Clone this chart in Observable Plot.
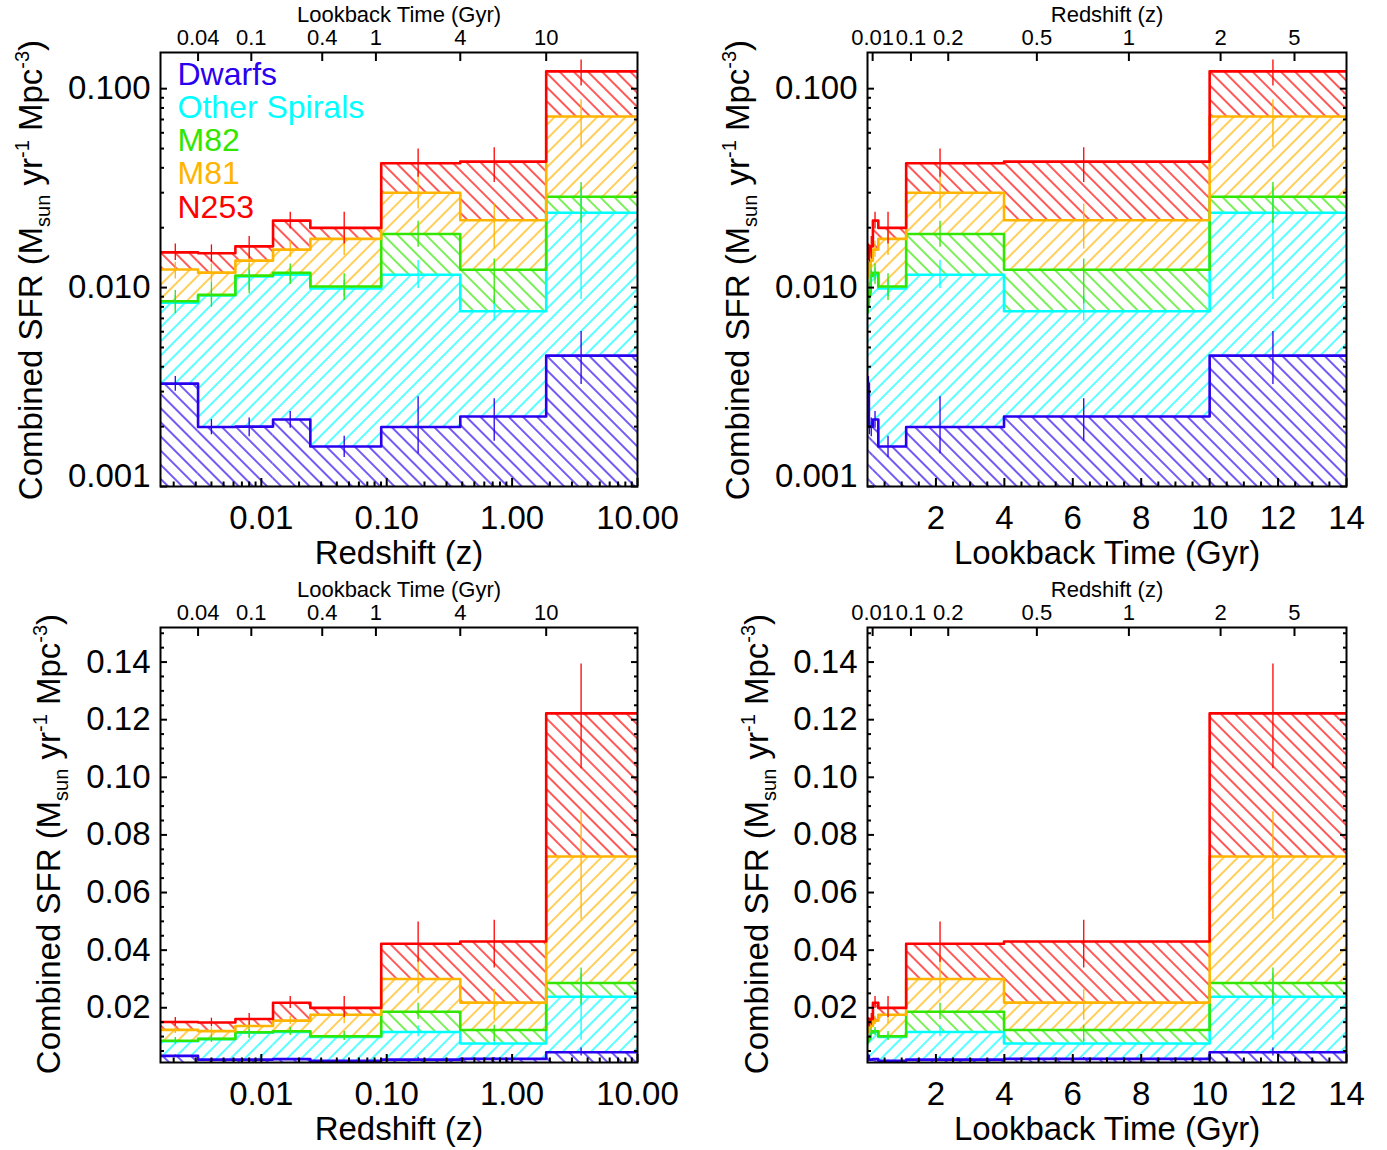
<!DOCTYPE html>
<html><head><meta charset="utf-8">
<script src="https://cdn.jsdelivr.net/npm/d3@7"></script>
<script src="https://cdn.jsdelivr.net/npm/@observablehq/plot@0.6"></script>
<style>
body{margin:0;background:#fff;}
#wrap{position:relative;width:1387px;height:1150px;overflow:hidden;}
#wrap svg{position:absolute;overflow:visible;}
</style></head><body><div id="wrap"></div>
<script>
// ---------------- data ----------------
const seriesNames = ["Dwarfs", "Other Spirals", "M82", "M81", "N253"];
const seriesColors = ["#2a00f0", "#00ffff", "#33e600", "#ffb400", "#ff0000"];

// bins
const lookbackEdges = [0.02, 0.04, 0.079, 0.158, 0.316, 1.13, 3.99, 10.0, 14.0];   // Gyr
const lookbackMid   = [0.028, 0.056, 0.11, 0.22, 0.60, 2.12, 6.32, 11.85];          // Gyr
const redshiftEdges = [0.00157, 0.00313, 0.00621, 0.0124, 0.0246, 0.0904, 0.386, 1.87, 10];
const redshiftMid   = [0.00206, 0.0040, 0.0080, 0.0170, 0.0458, 0.178, 0.720, 3.55];

// cumulative (stacked) combined SFR per bin, Msun / yr / Mpc^3
const dwarfsTop  = [0.00329, 0.00199, 0.00200, 0.00217, 0.00159, 0.00199, 0.00225, 0.00455];
const spiralsTop = [0.00840, 0.00912, 0.01136, 0.01162, 0.00989, 0.0116, 0.0076, 0.0238];
const m82Top     = [0.00853, 0.00919, 0.01149, 0.01186, 0.01012, 0.0186, 0.0123, 0.0286];
const m81Top     = [0.01232, 0.01189, 0.01367, 0.01552, 0.01757, 0.0300, 0.0218, 0.0725];
const n253Top    = [0.01504, 0.01487, 0.01612, 0.02172, 0.01995, 0.0422, 0.0430, 0.1222];

// error bars (low / high)
const dwarfsLo  = [0.00301, 0.00182, 0.00178, 0.00196, 0.00140, 0.00146, 0.00169, 0.00326];
const dwarfsHi  = [0.00357, 0.00217, 0.00221, 0.00238, 0.00179, 0.00283, 0.00276, 0.00601];
const spiralsLo = [0.0078, 0.0085, 0.0097, 0.0108, 0.0090, 0.0099, 0.0068, 0.0087];
const spiralsHi = [0.0091, 0.0098, 0.0125, 0.0125, 0.0109, 0.0137, 0.0091, 0.032];
const m82Lo     = [0.00738, 0.00796, 0.0093, 0.01035, 0.0086, 0.01594, 0.00828, 0.021];
const m82Hi     = [0.00966, 0.01063, 0.01315, 0.01315, 0.01172, 0.02154, 0.01394, 0.0338];
const m81Lo     = [0.01106, 0.01063, 0.01218, 0.0142, 0.01448, 0.02486, 0.01565, 0.0506];
const m81Hi     = [0.0134, 0.01315, 0.01504, 0.01709, 0.01934, 0.03796, 0.02634, 0.0880];
const n253Lo    = [0.01367, 0.0134, 0.01394, 0.01972, 0.01658, 0.03584, 0.0338, 0.1030];
const n253Hi    = [0.01658, 0.01639, 0.01804, 0.0239, 0.0239, 0.0498, 0.0504, 0.1393];

// tick labels
const lookbackTickLabels   = ["0.04", "0.1", "0.4", "1", "4", "10"];
const lookbackTickRedshift = [0.00313, 0.00832, 0.0306, 0.082, 0.386, 1.87];
const redshiftTickLabels   = ["0.01", "0.1", "0.2", "0.5", "1", "2", "5"];
const redshiftTickLookback = [0.15, 1.27, 2.36, 4.95, 7.64, 10.32, 12.48];
const redshiftAxisTicks = [0.01, 0.1, 1, 10];
const lookbackAxisTicks = [2, 4, 6, 8, 10, 12, 14];
const logYTicks = [0.001, 0.01, 0.1];
const linYTicks = [0.02, 0.04, 0.06, 0.08, 0.10, 0.12, 0.14];
const yDomain = [0.001, 0.152];

// ---------------- drawing ----------------
const FONT = '"Liberation Sans", Arial, Helvetica, sans-serif';
const tops = [dwarfsTop, spiralsTop, m82Top, m81Top, n253Top];
const los = [dwarfsLo, spiralsLo, m82Lo, m81Lo, n253Lo];
const his = [dwarfsHi, spiralsHi, m82Hi, m81Hi, n253Hi];

function logMinor(lo, hi) {
  const out = [];
  for (let e = -4; e <= 2; e++) for (let m = 2; m <= 9; m++) {
    const v = m * Math.pow(10, e);
    if (v > lo * 1.0001 && v < hi * 0.9999) out.push(+v.toPrecision(3));
  }
  return out;
}
function linMinor(lo, hi, step, majorStep) {
  const out = [];
  for (let k = 1; k * step < hi; k++) {
    const v = +(k * step).toFixed(6);
    if (v <= lo) continue;
    if (Math.abs(v / majorStep - Math.round(v / majorStep)) < 1e-6) continue;
    out.push(v);
  }
  return out;
}

function makePanel(cfg) {
  const {id, left, top, width, height, mL, mR, mT, mB, xLog, yLog, xDomain, edges, mids,
         bottomTicks, bottomFmt, topTicks, topLabels, topTitle, bottomTitle, legend, titleX, titleY} = cfg;
  const marks = [];
  // hatched bands
  tops.forEach((t, s) => {
    const bins = t.map((v, i) => ({x1: edges[i], x2: edges[i + 1], y1: s === 0 ? yDomain[0] : tops[s - 1][i], y2: v}));
    marks.push(Plot.rect(bins, {x1: "x1", x2: "x2", y1: "y1", y2: "y2", fill: `url(#${id}-h${s})`, clip: true}));
  });
  // step outlines
  tops.forEach((t, s) => {
    const pts = t.flatMap((v, i) => [{x: edges[i], y: v}, {x: edges[i + 1], y: v}]);
    marks.push(Plot.line(pts, {x: "x", y: "y", stroke: seriesColors[s], strokeWidth: 2.6, clip: true}));
  });
  // error bars
  tops.forEach((t, s) => {
    const eb = t.map((v, i) => ({x: mids[i], lo: los[s][i], hi: his[s][i]}));
    marks.push(Plot.ruleX(eb, {x: "x", y1: "lo", y2: "hi", stroke: seriesColors[s], strokeWidth: 1.3, clip: true}));
  });
  // legend
  if (legend) {
    seriesNames.forEach((n, s) => {
      marks.push(Plot.text([n], {frameAnchor: "top-left", textAnchor: "start", lineAnchor: "middle",
        dx: 17, dy: 22 + s * 33.2, fill: seriesColors[s], fontSize: 32, text: d => d}));
    });
  }
  // axes
  const xMinor = xLog ? logMinor(xDomain[0], xDomain[1]) : linMinor(xDomain[0], xDomain[1], 0.5, 2);
  const yMajor = yLog ? logYTicks : linYTicks;
  const yMinor = yLog ? logMinor(yDomain[0], yDomain[1]) : linMinor(yDomain[0], yDomain[1], 0.005, 0.02);
  const yFmt = yLog ? d3.format(".3f") : d3.format(".2f");
  const empty = () => "";
  marks.push(
    Plot.axisX({anchor: "bottom", ticks: bottomTicks, tickFormat: bottomFmt, tickSize: -8, tickPadding: 27, fontSize: 33, strokeWidth: 2, label: null}),
    Plot.axisX({anchor: "bottom", ticks: xMinor, tickFormat: empty, tickSize: -4.5, strokeWidth: 2, label: null}),
    Plot.axisX({anchor: "top", ticks: topTicks, tickFormat: empty, tickSize: -8, strokeWidth: 2, label: null}),
    Plot.text(topTicks, {x: d => d, text: (d, i) => topLabels[i], frameAnchor: "top", lineAnchor: "bottom", dy: -8, fontSize: 22}),
    Plot.axisY({anchor: "left", ticks: yMajor, tickFormat: d => (yLog && d === 0.001) ? "" : yFmt(d), tickSize: -7, tickPadding: 17, fontSize: 33, strokeWidth: 2, label: null}),
    Plot.axisY({anchor: "left", ticks: yMinor, tickFormat: empty, tickSize: -4, strokeWidth: 2, label: null}),
    Plot.axisY({anchor: "right", ticks: yMajor, tickFormat: empty, tickSize: -7, strokeWidth: 2, label: null}),
    Plot.axisY({anchor: "right", ticks: yMinor, tickFormat: empty, tickSize: -4, strokeWidth: 2, label: null})
  );
  if (yLog) {
    marks.push(Plot.axisY({anchor: "left", ticks: [0.001], tickFormat: yFmt, tickSize: 0, tickPadding: 10, dy: -10, fontSize: 33, label: null}));
  }
  marks.push(Plot.frame({stroke: "black", strokeWidth: 2}));
  marks.push(Plot.text([bottomTitle], {frameAnchor: "bottom", lineAnchor: "middle", dy: 67, fontSize: 33, text: d => d}));
  marks.push(Plot.text([topTitle], {frameAnchor: "top", lineAnchor: "middle", dy: -38, fontSize: 22, text: d => d}));

  const svg = Plot.plot({
    width, height, marginLeft: mL, marginRight: mR, marginTop: mT, marginBottom: mB,
    x: {type: xLog ? "log" : "linear", domain: xDomain},
    y: {type: yLog ? "log" : "linear", domain: yDomain},
    style: {fontFamily: FONT, fontSize: "33px", color: "black", background: "transparent", overflow: "visible"},
    marks
  });
  svg.style.left = left + "px";
  svg.style.top = top + "px";
  // hatch patterns
  const defs = d3.select(svg).insert("defs", ":first-child");
  seriesColors.forEach((c, s) => {
    const p = defs.append("pattern").attr("id", `${id}-h${s}`).attr("patternUnits", "userSpaceOnUse")
      .attr("width", 10).attr("height", 10).attr("patternTransform", `rotate(${s % 2 ? 45 : -45})`);
    p.append("line").attr("x1", 5).attr("y1", -1).attr("x2", 5).attr("y2", 11).attr("stroke", c).attr("stroke-width", 1.3);
  });
  // y-axis title with sub/superscripts
  const t = d3.select(svg).append("text")
    .attr("transform", `translate(${titleX},${titleY}) rotate(-90)`)
    .attr("text-anchor", "middle").attr("font-family", FONT).attr("font-size", 33).attr("fill", "black");
  t.append("tspan").text("Combined SFR (M");
  t.append("tspan").attr("font-size", 20).attr("dy", 8).text("sun");
  t.append("tspan").attr("dy", -8).text(" yr");
  t.append("tspan").attr("font-size", 20).attr("dy", -13).text("-1");
  t.append("tspan").attr("dy", 13).text(" Mpc");
  t.append("tspan").attr("font-size", 20).attr("dy", -13).text("-3");
  t.append("tspan").attr("dy", 13).text(")");
  document.getElementById("wrap").appendChild(svg);
}

const zFmt = d3.format(".2f");
const tFmt = d => String(d);
const common = {width: 693, height: 575, mT: 52, mB: 89};

// top-left: log SFR vs redshift
makePanel({...common, id: "tl", left: 0, top: 0, mL: 160, mR: 56, xLog: true, yLog: true,
  xDomain: [redshiftEdges[0], 10], edges: redshiftEdges, mids: redshiftMid,
  bottomTicks: redshiftAxisTicks, bottomFmt: zFmt, topTicks: lookbackTickRedshift, topLabels: lookbackTickLabels,
  topTitle: "Lookback Time (Gyr)", bottomTitle: "Redshift (z)", legend: true, titleX: 42, titleY: 270});
// top-right: log SFR vs lookback time
makePanel({...common, id: "tr", left: 693, top: 0, width: 694, mL: 174, mR: 41, xLog: false, yLog: true,
  xDomain: [0, 14], edges: lookbackEdges, mids: lookbackMid,
  bottomTicks: lookbackAxisTicks, bottomFmt: tFmt, topTicks: redshiftTickLookback, topLabels: redshiftTickLabels,
  topTitle: "Redshift (z)", bottomTitle: "Lookback Time (Gyr)", legend: false, titleX: 56, titleY: 270});
// bottom-left: linear SFR vs redshift
makePanel({...common, id: "bl", left: 0, top: 575, mT: 52, mB: 88, mL: 160, mR: 56, xLog: true, yLog: false,
  xDomain: [redshiftEdges[0], 10], edges: redshiftEdges, mids: redshiftMid,
  bottomTicks: redshiftAxisTicks, bottomFmt: zFmt, topTicks: lookbackTickRedshift, topLabels: lookbackTickLabels,
  topTitle: "Lookback Time (Gyr)", bottomTitle: "Redshift (z)", legend: false, titleX: 60, titleY: 269});
// bottom-right: linear SFR vs lookback time
makePanel({...common, id: "br", left: 693, top: 575, width: 694, mT: 52, mB: 88, mL: 174, mR: 41, xLog: false, yLog: false,
  xDomain: [0, 14], edges: lookbackEdges, mids: lookbackMid,
  bottomTicks: lookbackAxisTicks, bottomFmt: tFmt, topTicks: redshiftTickLookback, topLabels: redshiftTickLabels,
  topTitle: "Redshift (z)", bottomTitle: "Lookback Time (Gyr)", legend: false, titleX: 75, titleY: 269});
</script>
</body></html>
